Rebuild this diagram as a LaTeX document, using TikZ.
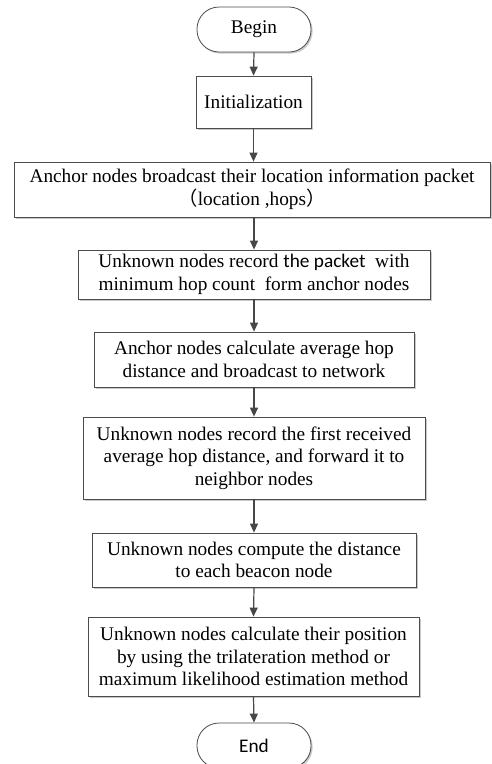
\documentclass[tikz,border=0pt]{standalone}
\usepackage{fontspec}
\setmainfont{Liberation Serif}
\newfontfamily\cjk{Noto Sans CJK SC}
\newfontfamily\calib{Carlito}
\usetikzlibrary{arrows.meta,shadows}
\tikzset{
  boxbase/.style={draw=black!70, line width=0.8pt, fill=white, align=center,
    inner sep=0pt, font=\fontsize{19.3}{22.5}\selectfont,
    drop shadow={shadow xshift=1.6pt, shadow yshift=-1.6pt, fill=black!35, opacity=0.6}},
  procbox/.style={boxbase, rectangle},
  termbox/.style={boxbase, rectangle, rounded corners=22pt},
  flow/.style={draw=black!72, line width=1.2pt, -{Triangle[length=9pt,width=8pt]}}
}
\begin{document}
\begin{tikzpicture}[x=1pt,y=1pt]
\useasboundingbox (0,0) rectangle (492,-764);
\fill[white] (0,0) rectangle (492,-764);
\node[termbox, minimum width=114pt, minimum height=45pt] (begin) at (254,-29.5) {Begin};
\node[procbox, minimum width=115pt, minimum height=52pt] (init) at (253.5,-102) {Initialization};
\node[procbox, minimum width=476pt, minimum height=55pt] (bcast) at (252,-189.5)
  {Anchor nodes broadcast their location information packet\\{\cjk （}location ,hops{\cjk ）}};
\node[procbox, minimum width=352pt, minimum height=49pt] (rec) at (254,-274.5)
  {Unknown nodes record {\calib the packet}\ \ with\\minimum hop count\ \ form anchor nodes};
\node[procbox, minimum width=320pt, minimum height=55pt] (avg) at (254,-359.5)
  {Anchor nodes calculate average hop\\distance and broadcast to network};
\node[procbox, minimum width=342pt, minimum height=82pt] (first) at (254,-458)
  {Unknown nodes record the first received\\average hop distance, and forward it to\\neighbor nodes};
\node[procbox, minimum width=324pt, minimum height=54pt] (dist) at (254,-560)
  {Unknown nodes compute the distance\\to each beacon node};
\node[procbox, minimum width=331pt, minimum height=79pt] (pos) at (253.5,-656.5)
  {Unknown nodes calculate their position\\by using the trilateration method or\\maximum likelihood estimation method};
\node[termbox, minimum width=114pt, minimum height=45pt, font=\calib\fontsize{19.3}{22.5}\selectfont] (end) at (254,-745.5) {End};
\draw[flow] (begin.south) -- (init.north);
\draw[flow] (init.south) -- (init.south |- bcast.north);
\draw[flow] (bcast.south -| rec.north) -- (rec.north);
\draw[flow] (rec.south) -- (avg.north);
\draw[flow] (avg.south) -- (first.north);
\draw[flow] (first.south) -- (dist.north);
\draw[flow] (dist.south) -- (pos.north);
\draw[flow] (pos.south) -- (end.north);
\end{tikzpicture}
\end{document}
